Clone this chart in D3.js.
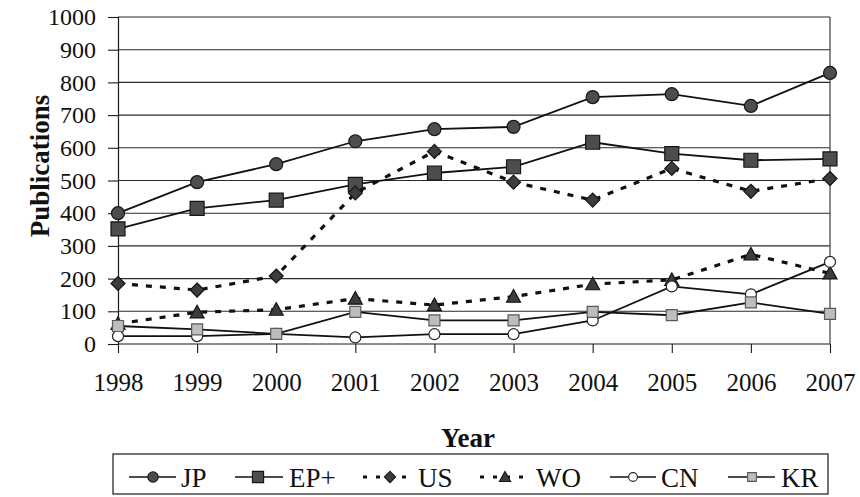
<!DOCTYPE html>
<html>
<head>
<meta charset="utf-8">
<script src="https://cdn.jsdelivr.net/npm/d3@7"></script>
<style>
  html, body { margin: 0; padding: 0; background: #fff; }
  svg { display: block; font-family: "Liberation Serif", "Times New Roman", serif; }
</style>
</head>
<body>
<svg id="chart" width="860" height="497"></svg>
<script>
// Publication counts per filing office, 1998–2007
const years = [1998, 1999, 2000, 2001, 2002, 2003, 2004, 2005, 2006, 2007];
const jp     = [400, 495, 550, 620, 657, 664, 755, 764, 728, 829];
const epPlus = [352, 415, 440, 488, 523, 542, 617, 582, 562, 566];
const us     = [185, 165, 208, 462, 589, 495, 440, 537, 467, 506];
const wo     = [62, 97, 105, 139, 119, 145, 183, 196, 274, 216];
const cn     = [24, 24, 31, 20, 30, 30, 72, 176, 152, 251];
const kr     = [55, 45, 31, 98, 72, 72, 98, 88, 127, 92];
const yTicks = [0, 100, 200, 300, 400, 500, 600, 700, 800, 900, 1000];

const seriesNames = ["JP", "EP+", "US", "WO", "CN", "KR"];
const seriesValues = [jp, epPlus, us, wo, cn, kr];

// Visual style for each series
const styles = {
  "JP":  { shape: "circle",   dashed: false, fill: "#4d4d4d", stroke: "#151515", size: 6.5 },
  "EP+": { shape: "square",   dashed: false, fill: "#4d4d4d", stroke: "#151515", size: 7 },
  "US":  { shape: "diamond",  dashed: true,  fill: "#3c3c3c", stroke: "#151515", size: 7 },
  "WO":  { shape: "triangle", dashed: true,  fill: "#3c3c3c", stroke: "#151515", size: 7 },
  "CN":  { shape: "circle",   dashed: false, fill: "#ffffff", stroke: "#222",    size: 5.5 },
  "KR":  { shape: "square",   dashed: false, fill: "#bdbdbd", stroke: "#5a5a5a", size: 5.5 }
};

const svg = d3.select("#chart");
const plotLeft = 118, plotRight = 830, plotTop = 17, plotBottom = 344;

const x = d3.scalePoint().domain(years).range([plotLeft, plotRight]);
const y = d3.scaleLinear().domain([0, 1000]).range([plotBottom, plotTop]);

// Horizontal gridlines
svg.append("g")
  .selectAll("line")
  .data(yTicks.filter(d => d > 0))
  .join("line")
  .attr("x1", plotLeft).attr("x2", plotRight)
  .attr("y1", d => y(d)).attr("y2", d => y(d))
  .attr("stroke", "#2a2a2a").attr("stroke-width", 1.1);

// Right border of the plot area
svg.append("line")
  .attr("x1", plotRight).attr("x2", plotRight)
  .attr("y1", y(1000)).attr("y2", y(0))
  .attr("stroke", "#2a2a2a").attr("stroke-width", 1.1);

// Y axis
const yAxis = svg.append("g")
  .attr("transform", `translate(${plotLeft},0)`)
  .call(d3.axisLeft(y).tickValues(yTicks).tickSize(10).tickPadding(12).tickFormat(d3.format("d")));
yAxis.select(".domain").attr("stroke", "#1a1a1a").attr("stroke-width", 1.2);
yAxis.selectAll(".tick line").attr("stroke", "#1a1a1a").attr("stroke-width", 1.1);
yAxis.selectAll(".tick text")
  .attr("font-family", "Liberation Serif, serif")
  .attr("font-size", 24).attr("fill", "#111");

// X axis
const xAxis = svg.append("g")
  .attr("transform", `translate(0,${plotBottom})`)
  .call(d3.axisBottom(x).tickSize(9).tickPadding(20).tickFormat(d3.format("d")));
xAxis.select(".domain").attr("stroke", "#1a1a1a").attr("stroke-width", 1.2)
  .attr("d", `M${plotLeft},0H${plotRight}`);
xAxis.selectAll(".tick line").attr("stroke", "#1a1a1a").attr("stroke-width", 1.1);
xAxis.selectAll(".tick text")
  .attr("font-family", "Liberation Serif, serif")
  .attr("font-size", 25).attr("fill", "#111");

// Axis titles
svg.append("text")
  .attr("transform", "translate(49,166) rotate(-90)")
  .attr("text-anchor", "middle")
  .attr("font-weight", "bold").attr("font-size", 27).attr("fill", "#111")
  .text("Publications");

svg.append("text")
  .attr("x", 468).attr("y", 447)
  .attr("text-anchor", "middle")
  .attr("font-weight", "bold").attr("font-size", 27).attr("fill", "#111")
  .text("Year");

// Marker path generator
function markerPath(shape, s) {
  switch (shape) {
    case "square":   return `M${-s},${-s}H${s}V${s}H${-s}Z`;
    case "diamond":  return `M0,${-s}L${s},0L0,${s}L${-s},0Z`;
    case "triangle": return `M0,${-s}L${s},${s * 0.8}L${-s},${s * 0.8}Z`;
    default:         return d3.arc()({ innerRadius: 0, outerRadius: s, startAngle: 0, endAngle: 2 * Math.PI });
  }
}

const line = d3.line().x((d, i) => x(years[i])).y(d => y(d));

// Series lines and markers, later series drawn on top
seriesNames.forEach((name, k) => {
  const st = styles[name];
  const vals = seriesValues[k];
  const g = svg.append("g");
  g.append("path")
    .datum(vals)
    .attr("d", line)
    .attr("fill", "none")
    .attr("stroke", "#111")
    .attr("stroke-width", st.dashed ? 3.2 : 1.8)
    .attr("stroke-dasharray", st.dashed ? "6,8" : null);
  g.selectAll("path.m")
    .data(vals)
    .join("path")
    .attr("class", "m")
    .attr("transform", (d, i) => `translate(${x(years[i])},${y(d)})`)
    .attr("d", markerPath(st.shape, st.size))
    .attr("fill", st.fill)
    .attr("stroke", st.stroke)
    .attr("stroke-width", 1.2);
});

// Legend
const legend = svg.append("g");
legend.append("rect")
  .attr("x", 113).attr("y", 454).attr("width", 715).attr("height", 40)
  .attr("fill", "#fff").attr("stroke", "#1a1a1a").attr("stroke-width", 1.2);

const legendItems = [
  { name: "JP",  x0: 129, x1: 176, mx: 153, tx: 181 },
  { name: "EP+", x0: 235, x1: 283, mx: 258, tx: 289 },
  { name: "US",  x0: 363, x1: 414, mx: 390, tx: 418 },
  { name: "WO",  x0: 480, x1: 531, mx: 505, tx: 536 },
  { name: "CN",  x0: 610, x1: 656, mx: 633, tx: 661 },
  { name: "KR",  x0: 728, x1: 775, mx: 752, tx: 781 }
];
const ly = 477;
legendItems.forEach(it => {
  const st = styles[it.name];
  if (st.dashed) {
    legend.append("line")
      .attr("x1", it.x0).attr("x2", it.x1).attr("y1", ly).attr("y2", ly)
      .attr("stroke", "#111").attr("stroke-width", 3.2)
      .attr("stroke-dasharray", "4,9");
  } else {
    legend.append("line")
      .attr("x1", it.x0).attr("x2", it.x1).attr("y1", ly).attr("y2", ly)
      .attr("stroke", "#111").attr("stroke-width", 1.6);
  }
  legend.append("path")
    .attr("transform", `translate(${it.mx},${ly})`)
    .attr("d", markerPath(st.shape, st.size * 0.8))
    .attr("fill", st.fill).attr("stroke", st.stroke).attr("stroke-width", 1.1);
  legend.append("text")
    .attr("x", it.tx).attr("y", 487)
    .attr("font-size", 27).attr("fill", "#111")
    .text(it.name);
});
</script>
</body>
</html>
